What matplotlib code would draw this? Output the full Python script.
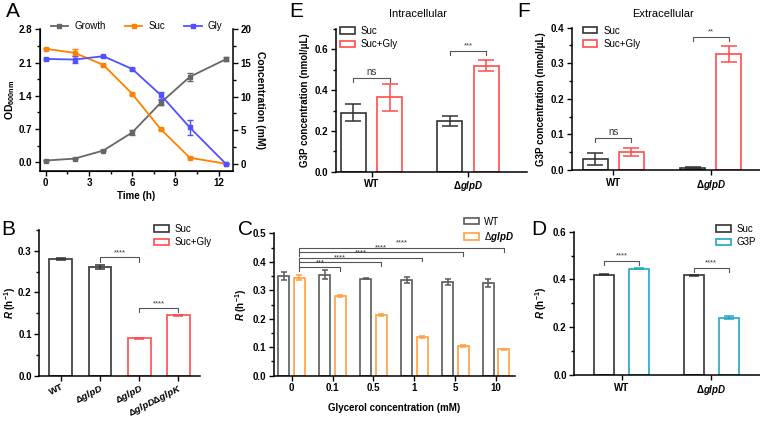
import numpy as np
import matplotlib.pyplot as plt
from matplotlib.patches import Patch
from matplotlib.lines import Line2D
from matplotlib.ticker import MultipleLocator, FormatStrFormatter

plt.rcParams['font.family'] = ['Liberation Sans', 'DejaVu Sans']
plt.rcParams['font.weight'] = 'bold'
plt.rcParams['axes.labelweight'] = 'bold'
plt.rcParams['mathtext.fontset'] = 'custom'
plt.rcParams['mathtext.rm'] = 'Liberation Sans'
plt.rcParams['mathtext.it'] = 'Liberation Sans:italic:bold'
plt.rcParams['mathtext.sf'] = 'Liberation Sans:italic'
plt.rcParams['mathtext.bf'] = 'Liberation Sans:bold'

# ---- data ----
# A: growth and substrate consumption
time_h = [0, 2, 4, 6, 8, 10, 12.5]
growth_od = [0.04, 0.08, 0.25, 0.63, 1.26, 1.80, 2.17]
growth_err = [0.01, 0.01, 0.02, 0.05, 0.05, 0.08, 0.04]
suc_mm = [17.1, 16.5, 14.7, 10.4, 5.1, 0.9, 0.0]
suc_err = [0.1, 0.5, 0.1, 0.1, 0.1, 0.1, 0.1]
gly_mm = [15.6, 15.5, 16.0, 14.1, 10.2, 5.4, 0.0]
gly_err = [0.1, 0.5, 0.1, 0.1, 0.5, 1.1, 0.1]

# B: growth rates
b_strains = ['WT', 'Δ$\\mathit{glpD}$', 'Δ$\\mathit{glpD}$', 'Δ$\\mathit{glpD}$Δ$\\mathit{glpK}$']
b_rate = [0.280, 0.262, 0.090, 0.145]
b_err = [0.003, 0.005, 0.001, 0.001]
b_medium = ['Suc', 'Suc', 'Suc+Gly', 'Suc+Gly']

# C: glycerol titration
c_conc = ['0', '0.1', '0.5', '1', '5', '10']
c_wt = [0.350, 0.355, 0.340, 0.336, 0.330, 0.324]
c_wt_err = [0.014, 0.017, 0.002, 0.012, 0.010, 0.014]
c_glpd = [0.344, 0.281, 0.212, 0.137, 0.105, 0.092]
c_glpd_err = [0.008, 0.003, 0.004, 0.003, 0.003, 0.002]
c_sig = ['***', '****', '****', '****', '****']
c_sig_y = [0.380, 0.398, 0.415, 0.433, 0.450]

# D: G3P as carbon source
d_strains = ['WT', 'Δ$\\mathit{glpD}$']
d_suc = [0.420, 0.417]
d_suc_err = [0.002, 0.002]
d_g3p = [0.445, 0.240]
d_g3p_err = [0.002, 0.006]

# E: intracellular G3P
e_suc = [0.29, 0.25]
e_suc_err = [0.042, 0.025]
e_sucgly = [0.365, 0.52]
e_sucgly_err = [0.065, 0.028]

# F: extracellular G3P
f_suc = [0.030, 0.006]
f_suc_err = [0.017, 0.002]
f_sucgly = [0.051, 0.326]
f_sucgly_err = [0.012, 0.022]

BLACK = '#333333'
RED = '#FF4B4B'
ORANGE_A = '#FF8000'
ORANGE_C = '#FFA040'
BLUE = '#5050FF'
GRAY = '#666666'
TEAL = '#22A5C5'

fig = plt.figure(figsize=(7.6, 4.21), dpi=100)


def px_axes(x0, y0, x1, y1):
    return fig.add_axes([x0 / 760, 1 - y1 / 421, (x1 - x0) / 760, (y1 - y0) / 421])


def style(ax):
    for s in ['top', 'right']:
        ax.spines[s].set_visible(False)
    for s in ['left', 'bottom']:
        ax.spines[s].set_linewidth(1.1)
    ax.tick_params(direction='out', length=3.5, width=1.0, labelsize=7, pad=2)
    ax.tick_params(which='minor', length=2, width=1.0)
    ax.tick_params(axis='x', which='minor', bottom=False)


def bracket(ax, x1, x2, y, drop, label, fs=5.5):
    ax.plot([x1, x1, x2, x2], [y - drop, y, y, y - drop], color='#555555', lw=0.8)
    ax.text((x1 + x2) / 2, y + drop * 0.3, label, ha='center', va='bottom',
            fontsize=fs, fontweight='normal', color='#333333')


def bar_legend(ax, labels, colors, x, y):
    handles = [Patch(facecolor='white', edgecolor=c, lw=1.2) for c in colors]
    ax.legend(handles, labels, loc='upper left', bbox_to_anchor=(x / 760, 1 - y / 421),
              bbox_transform=fig.transFigure, frameon=False, borderpad=0, borderaxespad=0,
              handlelength=1.5, handleheight=0.6, handletextpad=0.6, labelspacing=0.35,
              prop={'size': 7, 'weight': 'normal'})


def bars(ax, x, vals, errs, color, width, capsize):
    ax.bar(x, vals, width=width, facecolor='white', edgecolor=color, lw=1.2)
    ax.errorbar(x, vals, yerr=errs, fmt='none', ecolor=color, elinewidth=1.1,
                capsize=capsize, capthick=1.1)


# ---- A ----
axA = px_axes(40, 29.3, 233, 170.5)
style(axA)
axA.errorbar(time_h, growth_od, yerr=growth_err, color=GRAY, marker='s', ms=3.2,
             lw=1.3, capsize=2, elinewidth=1, capthick=1)
axA.set_xlim(-0.4, 13.0)
axA.set_ylim(-0.17, 2.8)
axA.set_yticks([0, 0.7, 1.4, 2.1, 2.8])
axA.yaxis.set_minor_locator(MultipleLocator(0.35))
axA.yaxis.set_major_formatter(FormatStrFormatter('%.1f'))
axA.set_xticks([0, 3, 6, 9, 12])
axA.xaxis.set_minor_locator(MultipleLocator(1.5))
axA.tick_params(axis='x', which='minor', bottom=True)
axA.set_xlabel('Time (h)', fontsize=7, labelpad=2)
axA.set_ylabel('OD$_{\\mathbf{600nm}}$', fontsize=7.5, labelpad=1)
axA2 = axA.twinx()
axA2.spines['top'].set_visible(False)
axA2.spines['right'].set_linewidth(1.1)
axA2.tick_params(direction='out', length=3.5, width=1.0, labelsize=7, pad=2)
axA2.tick_params(which='minor', length=2, width=1.0)
axA2.errorbar(time_h, suc_mm, yerr=suc_err, color=ORANGE_A, marker='s', ms=3.2,
              lw=1.3, capsize=2, elinewidth=1, capthick=1)
axA2.errorbar(time_h, gly_mm, yerr=gly_err, color=BLUE, marker='s', ms=3.2,
              lw=1.3, capsize=2, elinewidth=1, capthick=1)
axA2.set_ylim(-1.0, 20)
axA2.set_yticks([0, 5, 10, 15, 20])
axA2.yaxis.set_minor_locator(MultipleLocator(2.5))
axA2.set_ylabel('Concentration (mM)', fontsize=7.5, rotation=270, labelpad=10)
a_handles = [Line2D([], [], color=c, marker='s', ms=3.2, lw=1.3) for c in [GRAY, ORANGE_A, BLUE]]
axA2.legend(a_handles, ['Growth', 'Suc', 'Gly'], loc='center', ncol=3,
            bbox_to_anchor=(0.5, 1.02), frameon=False, handlelength=1.8,
            handletextpad=0.6, columnspacing=2.0, prop={'size': 7, 'weight': 'normal'})

# ---- E ----
axE = px_axes(335.7, 29, 526.7, 171.7)
style(axE)
gx = np.arange(2)
bars(axE, gx - 0.19, e_suc, e_suc_err, BLACK, 0.262, 5.5)
bars(axE, gx + 0.19, e_sucgly, e_sucgly_err, RED, 0.262, 5.5)
axE.set_xlim(-0.371, 1.608)
axE.set_ylim(0, 0.7)
axE.set_yticks([0, 0.2, 0.4, 0.6])
axE.yaxis.set_minor_locator(MultipleLocator(0.1))
axE.yaxis.set_major_formatter(FormatStrFormatter('%.1f'))
axE.set_xticks(gx)
axE.set_xticklabels(['WT', 'Δ$\\mathit{glpD}$'])
axE.set_ylabel('G3P concentration (nmol/μL)', fontsize=7, labelpad=3)
bracket(axE, -0.19, 0.19, 0.46, 0.02, 'ns', fs=7)
bracket(axE, 0.81, 1.19, 0.593, 0.02, '***')
bar_legend(axE, ['Suc', 'Suc+Gly'], [BLACK, RED], 340, 26)
fig.text(418 / 760, 1 - 17 / 421, 'Intracellular', ha='center', va='baseline',
         fontsize=8, fontweight='normal')

# ---- F ----
axF = px_axes(571.7, 27.7, 759.5, 170)
style(axF)
bars(axF, gx - 0.185, f_suc, f_suc_err, BLACK, 0.26, 5.5)
bars(axF, gx + 0.185, f_sucgly, f_sucgly_err, RED, 0.26, 5.5)
axF.set_xlim(-0.427, 1.5)
axF.set_ylim(0, 0.4)
axF.set_yticks([0, 0.1, 0.2, 0.3, 0.4])
axF.yaxis.set_minor_locator(MultipleLocator(0.05))
axF.yaxis.set_major_formatter(FormatStrFormatter('%.1f'))
axF.set_xticks(gx)
axF.set_xticklabels(['WT', 'Δ$\\mathit{glpD}$'])
axF.set_ylabel('G3P concentration (nmol/μL)', fontsize=7, labelpad=3)
bracket(axF, -0.185, 0.185, 0.089, 0.011, 'ns', fs=7)
bracket(axF, 0.815, 1.185, 0.375, 0.011, '**')
bar_legend(axF, ['Suc', 'Suc+Gly'], [BLACK, RED], 582.7, 25.5)
fig.text(662.7 / 760, 1 - 17 / 421, 'Extracellular', ha='center', va='baseline',
         fontsize=8, fontweight='normal')

# ---- B ----
axB = px_axes(39.3, 230, 200, 375.7)
style(axB)
bx = np.arange(len(b_rate))
b_colors = [BLACK if m == 'Suc' else RED for m in b_medium]
for i in range(len(b_rate)):
    bars(axB, [bx[i]], [b_rate[i]], [b_err[i]], b_colors[i], 0.58, 3.5)
axB.set_xlim(-0.545, 3.55)
axB.set_ylim(0, 0.35)
axB.set_yticks([0, 0.1, 0.2, 0.3])
axB.yaxis.set_minor_locator(MultipleLocator(0.05))
axB.yaxis.set_major_formatter(FormatStrFormatter('%.1f'))
axB.set_xticks(bx)
axB.set_xticklabels(b_strains, rotation=27, ha='right', rotation_mode='anchor', fontsize=6.8)
axB.tick_params(axis='x', pad=1)
axB.set_ylabel('$\\mathit{R}$ (h$^{\\mathbf{-1}}$)', fontsize=7, labelpad=0)
bracket(axB, 1, 2, 0.284, 0.01, '****')
bracket(axB, 2, 3, 0.162, 0.01, '****')
bar_legend(axB, ['Suc', 'Suc+Gly'], [BLACK, RED], 154, 224)

# ---- C ----
axC = px_axes(274, 233.3, 515, 375.7)
style(axC)
cx = np.arange(len(c_conc))
bars(axC, cx - 0.19, c_wt, c_wt_err, '#5a5a5a', 0.27, 2.2)
bars(axC, cx + 0.19, c_glpd, c_glpd_err, ORANGE_C, 0.27, 2.2)
axC.set_xlim(-0.433, 5.46)
axC.set_ylim(0, 0.5)
axC.set_yticks([0, 0.1, 0.2, 0.3, 0.4, 0.5])
axC.yaxis.set_minor_locator(MultipleLocator(0.05))
axC.yaxis.set_major_formatter(FormatStrFormatter('%.1f'))
axC.set_xticks(cx)
axC.set_xticklabels(c_conc)
axC.set_xlabel('Glycerol concentration (mM)', fontsize=7, labelpad=7)
axC.set_ylabel('$\\mathit{R}$ (h$^{\\mathbf{-1}}$)', fontsize=7, labelpad=3)
for i in range(1, len(c_conc)):
    bracket(axC, 0.19, i + 0.19, c_sig_y[i - 1], 0.014, c_sig[i - 1])
bar_legend(axC, ['WT', 'Δ$\\mathsf{glpD}$'], ['#5a5a5a', ORANGE_C], 464, 216.5)

# ---- D ----
axD = px_axes(574.3, 231.7, 759.5, 375)
style(axD)
bars(axD, gx - 0.196, d_suc, d_suc_err, BLACK, 0.222, 3.5)
bars(axD, gx + 0.196, d_g3p, d_g3p_err, TEAL, 0.222, 3.5)
axD.set_xlim(-0.527, 1.54)
axD.set_ylim(0, 0.6)
axD.set_yticks([0, 0.2, 0.4, 0.6])
axD.yaxis.set_minor_locator(MultipleLocator(0.1))
axD.yaxis.set_major_formatter(FormatStrFormatter('%.1f'))
axD.set_xticks(gx)
axD.set_xticklabels(d_strains)
axD.set_ylabel('$\\mathit{R}$ (h$^{\\mathbf{-1}}$)', fontsize=7, labelpad=3)
bracket(axD, -0.196, 0.196, 0.477, 0.017, '****')
bracket(axD, 0.804, 1.196, 0.449, 0.017, '****')
bar_legend(axD, ['Suc', 'G3P'], [BLACK, TEAL], 716, 224)

# panel letters
for letter, x, y in [('A', 6, 17), ('E', 289, 17), ('F', 517, 17),
                     ('B', 1, 235), ('C', 238, 235), ('D', 531, 235)]:
    fig.text(x / 760, 1 - y / 421, letter, fontsize=15, fontweight='normal', va='baseline')

fig.savefig('out.png', dpi=100)
